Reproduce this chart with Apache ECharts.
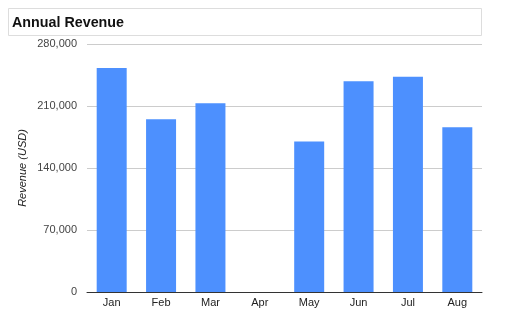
<!DOCTYPE html>
<html><head><meta charset="utf-8">
<script src="https://cdn.jsdelivr.net/npm/echarts@6/dist/echarts.min.js"></script>
<style>html,body{margin:0;padding:0;background:#fff}#c{width:518px;height:323px}</style>
</head><body><div id="c"></div>
<script>
const categories = ['Jan','Feb','Mar','Apr','May','Jun','Jul','Aug'];
const revenue = [253000, 195000, 213000, 0, 170000, 238000, 243000, 186000];
const yTicks = [0, 70000, 140000, 210000, 280000];

const chart = echarts.init(document.getElementById('c'), null, {renderer:'canvas'});
chart.setOption({
  animation: false,
  backgroundColor: '#fff',
  graphic: [{
    type: 'rect', left: 8, top: 8, z: 0,
    shape: {width: 473, height: 27},
    style: {fill: '#fff', stroke: '#dddddd', lineWidth: 1}
  }],
  title: {
    text: 'Annual Revenue', left: 7, top: 11,
    textStyle: {fontFamily: 'Liberation Sans, Arial', fontWeight: 'bold', fontSize: 14.3, color: '#111'}
  },
  grid: {left: 87, right: 36, top: 44, bottom: 31},
  xAxis: {
    type: 'category', data: categories,
    axisLine: {lineStyle: {color: '#333', width: 1}},
    axisTick: {show: false},
    axisLabel: {fontFamily: 'Liberation Sans, Arial', fontSize: 11, color: '#222', margin: 5}
  },
  yAxis: {
    type: 'value', min: yTicks[0], max: yTicks[yTicks.length-1], interval: 70000,
    name: 'Revenue (USD)', nameLocation: 'middle', nameGap: 59, nameMoveOverlap: false,
    nameTextStyle: {fontFamily: 'Liberation Sans, Arial', fontSize: 11, fontStyle: 'italic', color: '#222'},
    axisLine: {show: false}, axisTick: {show: false},
    axisLabel: {fontFamily: 'Liberation Sans, Arial', fontSize: 11, color: '#444', margin: 10,
      formatter: v => v.toLocaleString('en-US')},
    splitLine: {lineStyle: {color: '#cccccc', width: 1}}
  },
  series: [{
    type: 'bar', data: revenue, barWidth: 30,
    itemStyle: {color: '#4d90fe'}
  }]
});
</script></body></html>
